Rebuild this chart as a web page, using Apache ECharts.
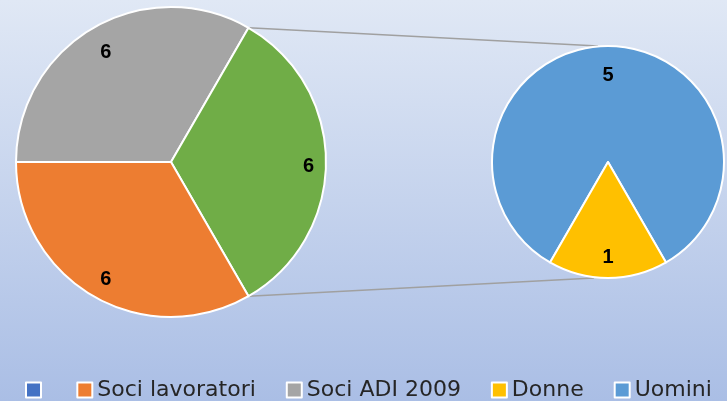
<!DOCTYPE html>
<html>
<head>
<meta charset="utf-8">
<script src="https://cdn.jsdelivr.net/npm/echarts@6/dist/echarts.min.js"></script>
<style>
  html, body { margin: 0; padding: 0; }
  #chart { width: 727px; height: 401px; }
</style>
</head>
<body>
<div id="chart"></div>
<script>
// 主饼图（左） — 空白名称那块就是拆到右边的“其他”
const mainNames = ['Soci ADI 2009', ' ', 'Soci lavoratori']
const mainValues = [6, 6, 6]
const mainColors = ['#a5a5a5', '#70ad47', '#ed7d31']
// 子饼图（右）
const subNames = ['Uomini', 'Donne']
const subValues = [5, 1]
const subColors = ['#5b9bd5', '#ffc000']
// 图例顺序
const legendNames = [' ', 'Soci lavoratori', 'Soci ADI 2009', 'Donne', 'Uomini']

const mainCenter = [171, 162]
const mainR = 155
const subCenter = [608, 162]
const subR = 116

const toData = (names, values, colors) =>
  names.map((n, i) => ({ name: n, value: values[i], itemStyle: { color: colors[i] } }))

const labelStyle = {
  show: true,
  position: 'inside',
  formatter: '{c}',
  offset: [0, 4],
  color: '#000',
  fontSize: 20,
  fontWeight: 'bold',
  fontFamily: 'Liberation Sans'
}

// 只负责放数字标签的透明层
const labelLayer = (center, r0, r, names, values, startAngle) => ({
  type: 'pie',
  center,
  radius: [r0, r],
  startAngle,
  silent: true,
  avoidLabelOverlap: false,
  labelLine: { show: false },
  emphasis: { disabled: true },
  itemStyle: { color: 'rgba(0,0,0,0)', borderWidth: 0 },
  label: labelStyle,
  data: names.map((n, i) => ({ name: n, value: values[i] })),
  z: 3
})

// 连接线：从绿色扇区两端到右边饼图的上下端
const rad = (d) => (d * Math.PI) / 180
const p1 = [mainCenter[0] + mainR * Math.cos(rad(60)), mainCenter[1] - mainR * Math.sin(rad(60))]
const p2 = [mainCenter[0] + mainR * Math.cos(rad(60)), mainCenter[1] + mainR * Math.sin(rad(60))]
const q1 = [subCenter[0] - 10, subCenter[1] - subR]
const q2 = [subCenter[0] - 14, subCenter[1] + subR]

const mainLabels = labelLayer(mainCenter, 100, mainR, mainNames, mainValues, 180)
// 绿色那块的数字在原图里更靠外一点
mainLabels.data[1].label = { offset: [7, 4] }

const chart = echarts.init(document.getElementById('chart'))
chart.setOption({
  animation: false,
  backgroundColor: {
    type: 'linear', x: 0, y: 0, x2: 0, y2: 1,
    colorStops: [
      { offset: 0, color: '#e0e8f5' },
      { offset: 1, color: '#aabee5' }
    ]
  },
  legend: {
    left: 25,
    top: 379,
    padding: 0,
    itemWidth: 15,
    itemHeight: 15,
    itemGap: 30,
    icon: 'rect',
    itemStyle: { borderColor: '#fff', borderWidth: 2 },
    textStyle: { fontSize: 22, color: '#262626', fontFamily: 'DejaVu Sans' },
    data: legendNames.map((n) =>
      n === ' '
        ? { name: n, itemStyle: { color: '#4472c4' }, textStyle: { fontSize: 1 } }
        : { name: n }
    )
  },
  graphic: [
    { type: 'line', z: 0, shape: { x1: p1[0], y1: p1[1], x2: q1[0], y2: q1[1] }, style: { stroke: '#a0a0a0', lineWidth: 1.5 } },
    { type: 'line', z: 0, shape: { x1: p2[0], y1: p2[1], x2: q2[0], y2: q2[1] }, style: { stroke: '#a0a0a0', lineWidth: 1.5 } }
  ],
  series: [
    {
      type: 'pie',
      center: mainCenter,
      radius: [0, mainR],
      startAngle: 180,
      avoidLabelOverlap: false,
      label: { show: false },
      labelLine: { show: false },
      itemStyle: { borderColor: '#fff', borderWidth: 2 },
      data: toData(mainNames, mainValues, mainColors)
    },
    {
      type: 'pie',
      center: subCenter,
      radius: [0, subR],
      startAngle: 240,
      avoidLabelOverlap: false,
      label: { show: false },
      labelLine: { show: false },
      itemStyle: { borderColor: '#fff', borderWidth: 2 },
      data: toData(subNames, subValues, subColors)
    },
    mainLabels,
    labelLayer(subCenter, 60, subR, subNames, subValues, 240)
  ]
})
</script>
</body>
</html>
